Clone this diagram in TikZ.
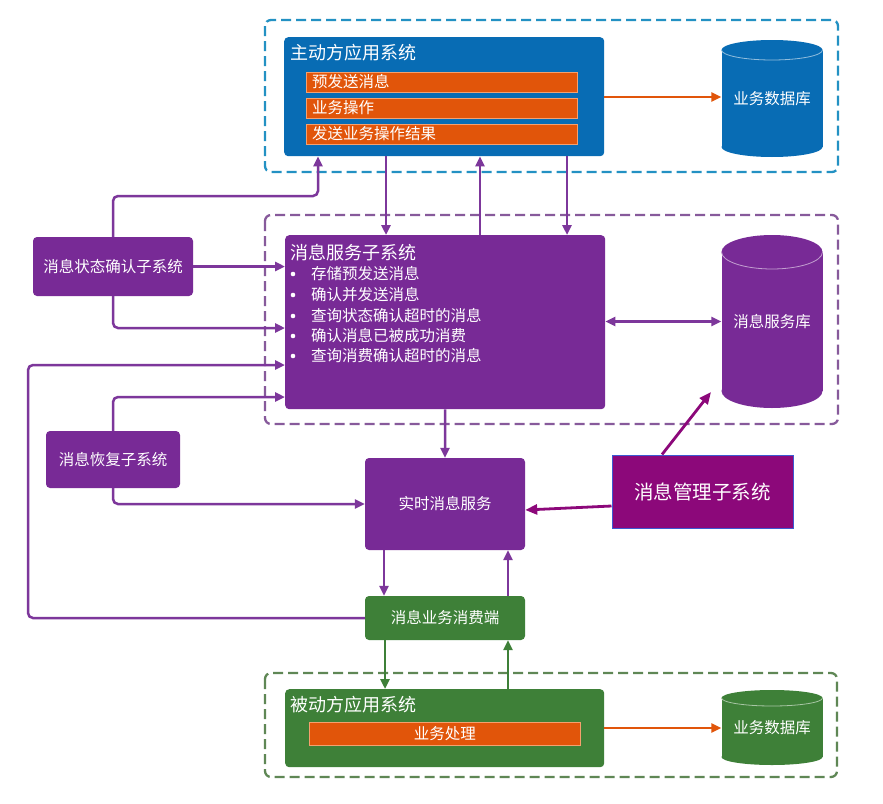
\documentclass[tikz,border=0pt]{standalone}
\usepackage{fontspec}
\setmainfont{Noto Sans CJK SC}
\usetikzlibrary{arrows.meta}
\definecolor{cblue}{RGB}{8,108,180}
\definecolor{cbluedash}{RGB}{35,145,195}
\definecolor{corange}{RGB}{225,85,10}
\definecolor{corangeb}{RGB}{245,160,110}
\definecolor{cpurple}{RGB}{120,42,150}
\definecolor{cline}{RGB}{125,55,155}
\definecolor{cpdash}{RGB}{135,90,155}
\definecolor{cgreen}{RGB}{62,128,56}
\definecolor{cgdash}{RGB}{95,135,85}
\definecolor{cmag}{RGB}{140,8,122}
\definecolor{cmagb}{RGB}{60,90,210}
% name, cx, top, bottom, rx, ry, colour, text
\newcommand\mydb[8]{%
  \fill[#7] ({#2-#5},{#3+#6}) rectangle ({#2+#5},{#4-#6});
  \fill[#7] (#2,{#4-#6}) ellipse[x radius=#5pt, y radius=#6pt];
  \fill[#7] (#2,{#3+#6}) ellipse[x radius=#5pt, y radius=#6pt];
  \draw[white!55!#7, line width=0.8pt] ({#2-#5},{#3+#6}) arc[start angle=180, end angle=360, x radius=#5pt, y radius=#6pt];
  \node[inner sep=0, minimum width={2*#5pt}, minimum height={(#4-#3)*1pt}] (#1) at (#2,{(#3+#4)/2}) {};
  \node[t] at (#1) {#8};
}
\begin{document}
\begin{tikzpicture}[x=1pt,y=-1pt,
  t/.style={text=white, font=\fontsize{15.5}{18}\selectfont, inner sep=0},
  ttl/.style={text=white, font=\fontsize{18}{21}\selectfont, inner sep=0},
  box/.style={rounded corners=4pt, inner sep=0, anchor=north west},
  cbox/.style={rounded corners=4pt, inner sep=0, anchor=center, t},
  bar/.style={fill=corange, draw=corangeb, line width=0.8pt, inner sep=0, anchor=north west},
  tip/.style={-{Triangle[length=10pt,width=9pt]}},
  pl/.style={draw=cline, line width=2.5pt, rounded corners=5pt},
  pa/.style={pl, tip},
  ga/.style={draw=cgreen, line width=2.8pt, tip},
  oa/.style={draw=corange, line width=2.5pt, tip},
  ma/.style={draw=cmag, line width=2.8pt, -{Triangle[length=12pt,width=10pt]}},
  dbox/.style={dash pattern=on 10pt off 5pt, line width=2.3pt, rounded corners=6pt}]
\useasboundingbox[fill=white] (0,0) rectangle (883,803);

% ---- top: active application system
\draw[dbox, draw=cbluedash] (265,20) rectangle (838,172);
\node[box, fill=cblue, minimum width=320, minimum height=119] (top) at (284,37) {};
\node[ttl, anchor=west] (toptitle) at (290,53) {主动方应用系统};
\node[bar, minimum width=271, minimum height=20] (b1) at (306,72) {};
\node[t, anchor=west] (b1t) at (312,82) {预发送消息};
\node[bar, minimum width=271, minimum height=20] (b2) at (306,98) {};
\node[t, anchor=west] (b2t) at (312,108) {业务操作};
\node[bar, minimum width=271, minimum height=20] (b3) at (306,124) {};
\node[t, anchor=west] (b3t) at (312,134) {发送业务操作结果};
\mydb{db1}{772}{40}{157}{50.5}{10}{cblue}{业务数据库}
\draw[oa] (top.east |- 0,97) -- (db1.west |- 0,97);

% ---- middle: message service subsystem
\draw[dbox, draw=cpdash] (265,215) rectangle (838,424);
\node[box, fill=cpurple, minimum width=320, minimum height=174] (msg) at (285,235) {};
\node[ttl, anchor=west] (msgtitle) at (290,253) {消息服务子系统};
\foreach \yy/\tx/\nm in {274/存储预发送消息/l1, 295/确认并发送消息/l2, 316/查询状态确认超时的消息/l3, 336/确认消息已被成功消费/l4, 356/查询消费确认超时的消息/l5}{
  \fill[white] (293,\yy) circle[radius=2.3pt];
  \node[t, anchor=west] (\nm) at (311,\yy) {\tx};
}
\mydb{msgdb}{772}{235}{408}{50.5}{17}{cpurple}{消息服务库}
\draw[pl, {Triangle[length=10pt,width=9pt]}-{Triangle[length=10pt,width=9pt]}] (msg.east |- msgdb.west) -- (msgdb.west);

% ---- side systems
\node[cbox, fill=cpurple, minimum width=160, minimum height=59] (ack) at (113,266.5) {消息状态确认子系统};
\node[cbox, fill=cpurple, minimum width=134, minimum height=57] (rec) at (113,459.5) {消息恢复子系统};
\node[cbox, fill=cpurple, minimum width=160, minimum height=92] (rt) at (445,504) {实时消息服务};
\node[cbox, fill=cgreen, minimum width=160, minimum height=44] (cons) at (445,618) {消息业务消费端};
\node[draw=cmagb, fill=cmag, line width=1pt, inner sep=0, minimum width=181, minimum height=73,
      text=white, font=\fontsize{19.5}{22}\selectfont] (mgmt) at (702.5,491.5) {消息管理子系统};
\coordinate (mgtip) at (711,392);

% ---- bottom: passive application system
\draw[dbox, draw=cgdash] (265,673) rectangle (837,777);
\node[box, fill=cgreen, minimum width=319, minimum height=78] (pas) at (285,689) {};
\node[ttl, anchor=west] (pastitle) at (290,705) {被动方应用系统};
\node[bar, minimum width=271, minimum height=23] (b4) at (309,722) {};
\node[t] (b4t) at (b4) {业务处理};
\mydb{db2}{772}{690}{765}{50.5}{8}{cgreen}{业务数据库}
\draw[oa] (pas.east |- 0,728) -- (db2.west |- 0,728);

% ---- connectors
\draw[pa] (ack.north) |- (318,196) -- (top.south -| 318,0);
\draw[pa] (top.south -| 386,0) -- (msg.north -| 386,0);
\draw[pa] (msg.north -| 480,0) -- (top.south -| 480,0);
\draw[pa] (top.south -| 567,0) -- (msg.north -| 567,0);
\draw[pa] (ack.east) -- (ack.east -| msg.west);
\draw[pa] (ack.south) |- (msg.west |- 0,328);
\draw[pa] (cons.west) -| (28,365) -- (msg.west |- 0,365);
\draw[pa] (rec.north) |- (msg.west |- 0,397);
\draw[pa] (rec.south) |- (rt.west);
\draw[pa] (msg.south) -- (rt.north);
\draw[pa] (rt.south -| 384,0) -- (cons.north -| 384,0);
\draw[pa] (cons.north -| 508,0) -- (rt.south -| 508,0);
\draw[ga] (cons.south -| 385,0) -- (pas.north -| 385,0);
\draw[ga] (pas.north -| 508,0) -- (cons.south -| 508,0);
\draw[ma] (mgmt.north -| 662,0) -- (mgtip);
\draw[ma] (mgmt.west |- 0,506) -- (rt.east |- 0,510);
\end{tikzpicture}
\end{document}
